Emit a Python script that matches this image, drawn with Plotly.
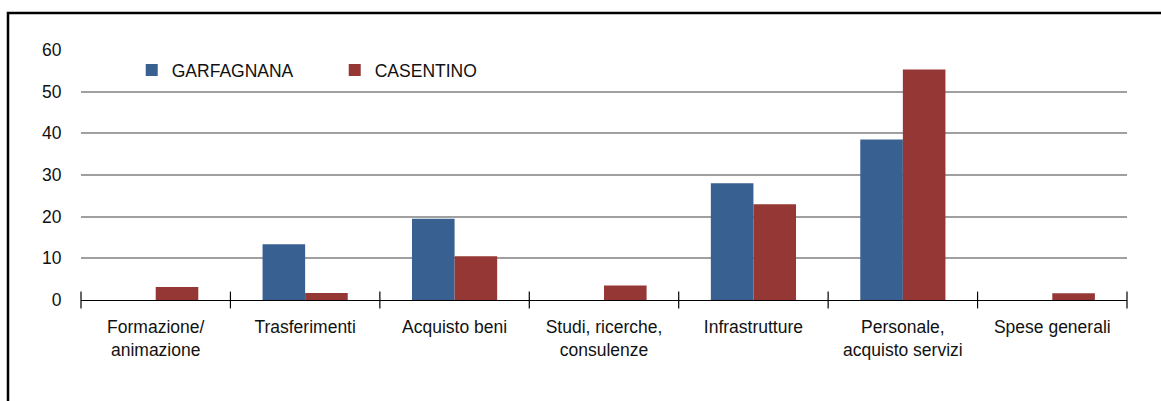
import plotly.graph_objects as go

categories = ["Formazione/<br>animazione", "Trasferimenti", "Acquisto beni",
              "Studi, ricerche,<br>consulenze", "Infrastrutture",
              "Personale,<br>acquisto servizi", "Spese generali"]
garfagnana = [0, 13.4, 19.5, 0, 28.0, 38.5, 0]
casentino = [3.1, 1.7, 10.5, 3.5, 23.0, 55.3, 1.6]
y_ticks = [0, 10, 20, 30, 40, 50, 60]

FONT = "Liberation Sans, Arial, sans-serif"
pos = list(range(len(categories)))
bounds = [p - 0.5 for p in pos] + [pos[-1] + 0.5]

fig = go.Figure()
fig.add_trace(go.Bar(x=pos, y=garfagnana, name="GARFAGNANA",
                     marker=dict(color="#386090", line=dict(width=0))))
fig.add_trace(go.Bar(x=pos, y=casentino, name="CASENTINO",
                     marker=dict(color="#953735", line=dict(width=0))))
# category separator ticks crossing the baseline
fig.add_trace(go.Scatter(x=bounds, y=[0] * len(bounds), mode="markers",
                         marker=dict(symbol="line-ns-open", size=12, color="black",
                                     line=dict(color="black", width=1.2)),
                         showlegend=False, hoverinfo="skip", cliponaxis=False))

fig.update_layout(
    width=1161, height=401,
    margin=dict(l=81, r=34, t=50, b=101),
    paper_bgcolor="white", plot_bgcolor="white",
    font=dict(family=FONT, size=17.5, color="#111111"),
    barmode="group", bargap=0.43, bargroupgap=0,
    showlegend=True,
    legend=dict(orientation="h", x=0.0485, xanchor="left", y=0.92, yanchor="middle",
                bgcolor="rgba(0,0,0,0)", font=dict(size=17.5),
                entrywidth=158, entrywidthmode="pixels", traceorder="normal"),
    xaxis=dict(range=[-0.5, len(categories) - 0.5], tickmode="array",
               tickvals=pos, ticktext=categories, ticks="outside",
               ticklen=11, tickcolor="rgba(0,0,0,0)",
               showline=True, linecolor="black", linewidth=1.2,
               showgrid=False, zeroline=False),
    yaxis=dict(range=[0, 60], tickmode="array", tickvals=y_ticks,
               ticks="outside", ticklen=15, tickcolor="rgba(0,0,0,0)",
               showgrid=True, gridcolor="#a0a0a0", gridwidth=1.8,
               showline=False, zeroline=False),
    shapes=[dict(type="rect", xref="paper", yref="paper",
                 x0=(8 - 81) / 1046, x1=(1180 - 81) / 1046,
                 y0=(300 - 420) / 250, y1=(300 - 13) / 250,
                 line=dict(color="black", width=2.5), layer="below")],
)

fig.write_html("out.html")
